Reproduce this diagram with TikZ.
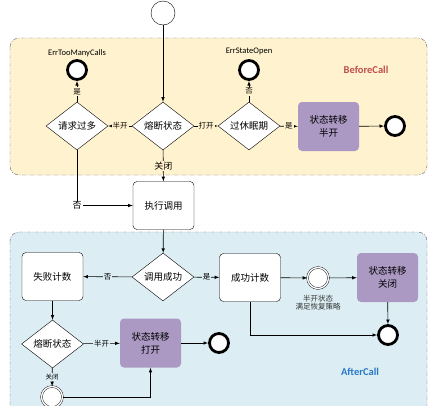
\documentclass[tikz,border=0pt]{standalone}
\usepackage{fontspec}
\setmainfont{Noto Sans CJK SC}
\newfontfamily\latfont{Carlito}
\usepackage{tikz}
\usetikzlibrary{arrows,shapes}
\definecolor{beforebg}{RGB}{255,242,206}
\definecolor{afterbg}{RGB}{220,238,243}
\definecolor{lanegray}{RGB}{100,100,100}
\definecolor{transfill}{RGB}{171,153,195}
\definecolor{beforered}{RGB}{192,80,77}
\definecolor{afterblue}{RGB}{40,120,200}
\tikzstyle{decision}=[diamond, draw, fill=white, aspect=1.3, minimum width=62pt, minimum height=48pt, inner sep=0pt, font=\fontsize{9.5}{11}\selectfont]
\tikzstyle{action}=[rectangle, draw, fill=white, rounded corners=4pt, minimum width=61pt, minimum height=48pt, font=\fontsize{9.5}{11}\selectfont]
\tikzstyle{transit}=[rectangle, fill=transfill, rounded corners=4pt, minimum width=61pt, minimum height=49pt, align=center, font=\fontsize{9.5}{13}\selectfont]
\tikzstyle{startev}=[circle, draw, fill=white, minimum size=24pt, inner sep=0pt]
\tikzstyle{endev}=[circle, draw, fill=white, line width=2.8pt, minimum size=19pt, inner sep=0pt]
\tikzstyle{midev}=[circle, draw, fill=white, double, double distance=1.4pt, minimum size=21pt, inner sep=0pt]
\tikzstyle{flow}=[->, >=latex, semithick]
\tikzstyle{elabel}=[inner sep=1pt, font=\fontsize{7.5}{8}\selectfont]
\tikzstyle{errlabel}=[font=\latfont\fontsize{8.5}{9}\selectfont]
\tikzstyle{lanelabel}=[font=\latfont\bfseries\fontsize{10.5}{11}\selectfont]
\newcommand{\lanebox}[5]{
	\draw[lanegray, fill=#1, rounded corners=9pt, dash pattern=on 4pt off 1.5pt on 1pt off 1.5pt] (#2,#3) rectangle (#4,#5);
}

\begin{document}
\begin{tikzpicture}[x=1pt, y=-1pt]
	\useasboundingbox (0,0) rectangle (437,405);
	\lanebox{beforebg}{10}{38}{427}{175}
	\lanebox{afterbg}{10}{232}{427}{420}
%
	\node[startev] (start) at (163,13) {};
	\node[decision] (fs1) at (163,126) {熔断状态};
	\node[decision] (qq) at (77,126) {请求过多};
	\node[decision] (xm) at (249,126) {过休眠期};
	\node[transit] (zt1) at (328.5,126.5) {状态转移\\半开};
	\node[endev] (end1) at (395,126) {};
	\node[endev] (err1) at (77,70) {};
	\node[endev] (err2) at (249,70) {};
	\node[errlabel] (err1txt) at (77,53) {ErrTooManyCalls};
	\node[errlabel] (err2txt) at (249,51) {ErrStateOpen};
	\node[lanelabel, text=beforered] (before) at (366,70) {BeforeCall};
%
	\node[action] (exec) at (163.5,205.5) {执行调用};
%
	\node[decision] (cg) at (163,277) {调用成功};
	\node[action] (sb) at (52.5,276.5) {失败计数};
	\node[action] (cs) at (250,277.5) {成功计数};
	\node[midev] (mid) at (318,278) {};
	\node[elabel, align=center, text=black!80] (midtxt) at (318,303) {半开状态\\满足恢复策略};
	\node[transit] (zt2) at (387.5,277.5) {状态转移\\关闭};
	\node[endev] (end2) at (388,335) {};
	\node[decision] (fs2) at (52.5,344) {熔断状态};
	\node[transit] (zt3) at (150.5,343) {状态转移\\打开};
	\node[endev] (end3) at (219,343) {};
	\node[midev] (mid2) at (52,397) {};
	\node[lanelabel, text=afterblue] (after) at (360,372) {AfterCall};
%
	\draw[flow] (start) -- (fs1);
	\draw[flow] (fs1) -- node[elabel, fill=beforebg] {半开} (qq);
	\draw[flow] (fs1) -- node[elabel, fill=beforebg] {打开} (xm);
	\draw[flow] (xm) -- node[elabel, fill=beforebg] {是} (zt1);
	\draw[flow] (zt1) -- (end1);
	\draw[flow] (qq) -- node[elabel, fill=beforebg] {是} (err1);
	\draw[flow] (xm) -- node[elabel, fill=beforebg] {否} (err2);
	\draw[flow] (fs1) -- node[elabel, fill=beforebg, font=\fontsize{9}{10}\selectfont, pos=0.5] {关闭} (exec);
	\draw[flow] (qq) |- node[elabel, fill=white, font=\fontsize{9}{10}\selectfont] {否} (exec);
%
	\draw[flow] (exec) -- (cg);
	\draw[flow] (cg) -- node[elabel, fill=afterbg] {否} (sb);
	\draw[flow] (cg) -- node[elabel, fill=afterbg] {是} (cs);
	\draw[flow] (cs) -- (mid);
	\draw[flow] (mid) -- (zt2);
	\draw[flow] (zt2) -- (end2);
	\draw[flow] (cs) |- (end2);
	\draw[flow] (sb) -- (fs2);
	\draw[flow] (fs2) -- node[elabel, fill=afterbg] {半开} (zt3);
	\draw[flow] (zt3) -- (end3);
	\draw[flow] (fs2) -- node[elabel, fill=afterbg, font=\fontsize{6.5}{7}\selectfont] {关闭} (mid2);
	\draw[flow] (mid2) -| (zt3);
\end{tikzpicture}
\end{document}
